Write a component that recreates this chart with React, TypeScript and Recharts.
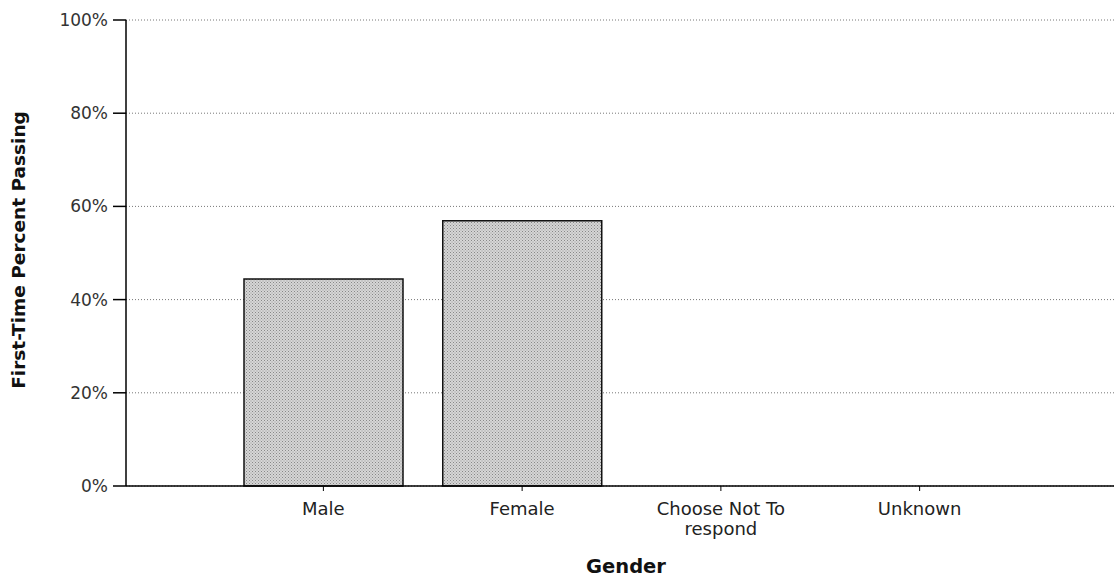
import React from 'react';
import { BarChart, Bar, XAxis, YAxis, CartesianGrid, Text } from 'recharts';

// Categories and values
const genders = ['Male', 'Female', 'Choose Not To respond', 'Unknown'];
const passRates = [44.4, 56.9, null, null];
const yTicks = [0, 20, 40, 60, 80, 100];

const data = genders.map((g, i) => ({ gender: g, rate: passRates[i] }));

const font = '"DejaVu Sans", "Liberation Sans", Arial, sans-serif';

const GenderTick = (props: any) => {
  const { x, y, payload } = props;
  return (
    <Text
      x={x}
      y={y + 9}
      width={150}
      textAnchor="middle"
      verticalAnchor="start"
      fontSize={18}
      fontFamily={font}
      fill="#222"
      lineHeight={20}
    >
      {payload.value}
    </Text>
  );
};

const YLabel = (props: any) => {
  const vb = props.viewBox || { x: 0, y: 0, width: 0, height: 0 };
  const cx = 18;
  const cy = vb.y + vb.height / 2 - 3;
  return (
    <text
      x={cx}
      y={cy}
      transform={`rotate(-90 ${cx} ${cy})`}
      textAnchor="middle"
      dominantBaseline="central"
      fontSize={18.5}
      fontWeight="bold"
      fontFamily={font}
      fill="#111"
    >
      First-Time Percent Passing
    </text>
  );
};

const App = () => {
  return (
    <div style={{ position: 'absolute', left: 0, top: 0, background: '#fff' }}>
      <BarChart
        width={1114}
        height={578}
        data={data}
        margin={{ top: 20, right: 0, bottom: 0, left: 0 }}
        barCategoryGap={20}
      >
        <defs>
          <pattern id="stipple" width="3" height="3" patternUnits="userSpaceOnUse">
            <rect width="3" height="3" fill="#d6d6d6" />
            <rect x="0" y="0" width="1" height="1" fill="#888" />
            <rect x="1.5" y="1.5" width="1" height="1" fill="#999" />
          </pattern>
        </defs>
        <CartesianGrid
          vertical={false}
          stroke="#777"
          strokeDasharray="1 2"
        />
        <XAxis
          dataKey="gender"
          padding={{ left: 98, right: 95 }}
          interval={0}
          tick={<GenderTick />}
          tickSize={5}
          axisLine={{ stroke: '#000', strokeWidth: 1.5 }}
          tickLine={{ stroke: '#000' }}
          height={92}
          label={{
            value: 'Gender',
            position: 'insideBottom',
            offset: 5,
            dx: 6,
            fontSize: 19.5,
            fontWeight: 'bold',
            fontFamily: font,
            fill: '#111',
          }}
        />
        <YAxis
          width={126}
          domain={[0, 100]}
          ticks={yTicks}
          tickFormatter={(v) => `${v}%`}
          tickSize={13}
          tickMargin={5}
          axisLine={{ stroke: '#000', strokeWidth: 1.5 }}
          tickLine={{ stroke: '#000', strokeWidth: 1.5 }}
          tick={{ fontSize: 17, fontFamily: font, fill: '#333' }}
          label={{ content: <YLabel /> }}
        />
        <Bar
          dataKey="rate"
          fill="url(#stipple)"
          stroke="#111"
          strokeWidth={1.5}
          isAnimationActive={false}
        />
      </BarChart>
    </div>
  );
};

export default App;
